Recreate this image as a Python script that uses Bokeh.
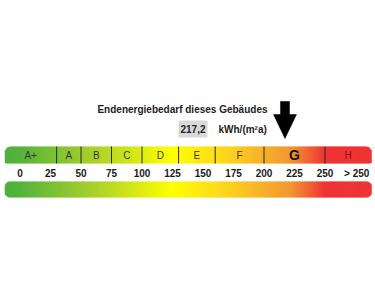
import numpy as np
from bokeh.plotting import figure
from bokeh.models import Range1d, ColumnDataSource
from bokeh.core.properties import value
from bokeh.embed import file_html
from bokeh.resources import INLINE

# ---------------- data ----------------
classes = ["A+", "A", "B", "C", "D", "E", "F", "G", "H"]
class_bounds = [30, 50, 75, 100, 130, 160, 200, 250]
tick_values = [0, 25, 50, 75, 100, 125, 150, 175, 200, 225, 250]
tick_labels = ["0", "25", "50", "75", "100", "125", "150", "175", "200", "225", "250"]
overflow_label = "> 250"
overflow_pos = 276
scale_min = -12.5
scale_max = 288.0
current_value = 217.2
current_label = "217,2"
current_class = "G"
unit_label = "kWh/(m²a)"
title_label = "Endenergiebedarf dieses Gebäudes"

# gradient colour stops (value, colour)
grad_pos = [-12.5, 0, 60, 125, 175, 222, 250, 288]
grad_col = ["#4cb13d", "#55b43c", "#a9d02c", "#ffff00", "#fccb0f", "#f08b1c", "#ed1c1c", "#ed1c1c"]

W, H = 375, 300
X0, X1 = -16.0, 291.4
k = W / (X1 - X0)  # pixels per value unit


def px(x):
    return X0 + x / k


p = figure(width=W, height=H, output_backend="svg", toolbar_location=None,
           x_range=Range1d(X0, X1), y_range=Range1d(H, 0),
           x_axis_type=None, y_axis_type=None, min_border=0,
           outline_line_color=None, background_fill_color="white",
           border_fill_color="white")
p.grid.visible = False

FONT = value("Liberation Sans")


def hex2rgb(h):
    return np.array([int(h[i:i + 2], 16) for i in (1, 3, 5)], dtype=float)


cols_rgb = np.array([hex2rgb(c) for c in grad_col])


def color_at(v):
    r = np.interp(v, grad_pos, cols_rgb[:, 0])
    g = np.interp(v, grad_pos, cols_rgb[:, 1])
    b = np.interp(v, grad_pos, cols_rgb[:, 2])
    return "#%02x%02x%02x" % (int(round(r)), int(round(g)), int(round(b)))


def gradient_bar(y_top, y_bot, r_top, r_bot):
    n = int((scale_max - scale_min) * k)
    edges = np.linspace(scale_min, scale_max, n + 1)
    L, R, T, B, C = [], [], [], [], []
    for i in range(n):
        a, b = edges[i], edges[i + 1]
        c = 0.5 * (a + b)
        d = min(c - scale_min, scale_max - c) * k
        def inset(r):
            if r <= 0 or d >= r:
                return 0.0
            return r - np.sqrt(max(r * r - (r - d) ** 2, 0))
        L.append(a)
        R.append(b + 0.35 / k)
        T.append(y_top + inset(r_top))
        B.append(y_bot - inset(r_bot))
        C.append(color_at(c))
    src = ColumnDataSource(dict(left=L, right=R, top=T, bottom=B, color=C))
    p.quad(left="left", right="right", top="top", bottom="bottom",
           fill_color="color", line_color=None, source=src)


# top bar with classes
TOP_Y0, TOP_Y1 = 146, 163
gradient_bar(TOP_Y0, TOP_Y1, 6, 1.5)
p.segment(x0=class_bounds, y0=[TOP_Y0] * len(class_bounds),
          x1=class_bounds, y1=[TOP_Y1] * len(class_bounds),
          line_color="#2a2a2a", line_width=1)

edges = [scale_min] + class_bounds + [scale_max]
centers = [0.5 * (edges[i] + edges[i + 1]) for i in range(len(classes))]
normal = [c for c in classes if c != current_class]
normal_x = [centers[i] for i, c in enumerate(classes) if c != current_class]
normal_col = ["#8b0f0f" if c == "H" else "#3a3a2a" for c in normal]
p.text(x=normal_x, y=[155] * len(normal), text=normal,
       text_align="center", text_baseline="middle",
       text_font=FONT, text_font_size="10px", text_color=normal_col)
gi = classes.index(current_class)
p.text(x=[centers[gi]], y=[154.5], text=[current_class],
       text_align="center", text_baseline="middle",
       text_font=FONT, text_font_size="14px", text_font_style="bold",
       text_color="#111111")

# tick labels
p.text(x=tick_values + [overflow_pos], y=[172.5] * (len(tick_values) + 1),
       text=tick_labels + [overflow_label],
       text_align="center", text_baseline="middle",
       text_font=FONT, text_font_size="10px", text_font_style="bold",
       text_color="#1a1a1a")

# bottom bar
gradient_bar(181, 197, 5, 5)

# title and value
p.text(x=[px(267)], y=[109], text=[title_label], text_align="right",
       text_baseline="middle", text_font=FONT, text_font_size="10px",
       text_font_style="bold", text_color="#222222")
p.quad(left=[px(178)], right=[px(207)], top=[120], bottom=[137],
       fill_color="#d9d9d9", line_color=None)
p.text(x=[px(192.5)], y=[128.5], text=[current_label], text_align="center",
       text_baseline="middle", text_font=FONT, text_font_size="10px",
       text_font_style="bold", text_color="#222222")
p.text(x=[px(218)], y=[129], text=[unit_label], text_align="left",
       text_baseline="middle", text_font=FONT, text_font_size="10px",
       text_font_style="bold", text_color="#222222")

# arrow
sh, hh = 4.5 / k, 11.5 / k
v = current_value
p.patch(x=[v - sh, v + sh, v + sh, v + hh, v, v - hh, v - sh],
        y=[101, 101, 114, 114, 138, 114, 114],
        fill_color="black", line_color="black", line_width=0.5)

open("out.html", "w").write(file_html(p, INLINE))
